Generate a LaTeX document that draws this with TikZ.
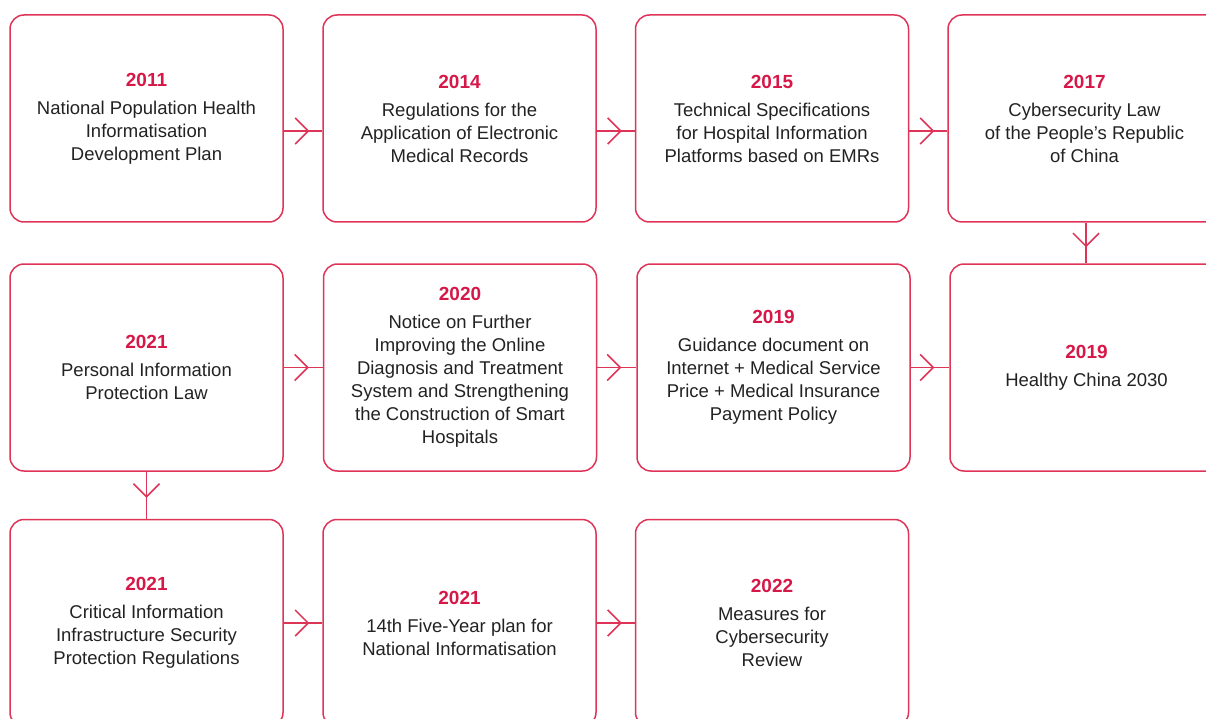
\documentclass[tikz,border=0pt]{standalone}
\usepackage{fontspec}
\setmainfont{Liberation Sans}
\usetikzlibrary{arrows.meta,decorations.markings}
\definecolor{crim}{RGB}{222,52,88}
\definecolor{yearc}{RGB}{214,24,72}
\definecolor{txt}{RGB}{34,34,34}
\tikzset{
  box/.style={draw=crim,line width=1.5pt,rounded corners=14pt,minimum width=273pt,minimum height=207pt,inner sep=0pt,align=center,text=txt,font=\fontsize{18.5}{23}\selectfont},
  conn/.style={draw=crim,line width=1.5pt,postaction={decorate},decoration={markings,mark=at position #1 with {\arrow[crim]{Straight Barb[length=13pt,width=26pt,line width=1.5pt]}}}},
  conn/.default=-13pt
}
\newcommand{\yr}[1]{{\color{yearc}\bfseries\fontsize{19}{23}\selectfont #1}\\[5pt]}
\begin{document}
\begin{tikzpicture}[x=1pt,y=-1pt]
\useasboundingbox (0,0) rectangle (1206,719);
\clip (0,0) rectangle (1206,719);
\node[box] (a1) at (146.5,118.5) {\yr{2011}National Population Health\\Informatisation\\Development Plan};
\node[box] (a2) at (459.5,118.5) {\yr{2014}Regulations for the\\Application of Electronic\\Medical Records};
\node[box] (a3) at (772,118.5) {\yr{2015}Technical Specifications\\for Hospital Information\\Platforms based on EMRs};
\node[box] (a4) at (1084.5,118.5) {\yr{2017}Cybersecurity Law\\of the People’s Republic\\of China};
\node[box] (b1) at (146.5,367.5) {\yr{2021}Personal Information\\Protection Law};
\node[box] (b2) at (460,367.5) {\yr{2020}Notice on Further\\Improving the Online\\Diagnosis and Treatment\\System and Strengthening\\the Construction of Smart\\Hospitals};
\node[box] (b3) at (773.5,367.5) {\yr{2019}Guidance document on\\Internet + Medical Service\\Price + Medical Insurance\\Payment Policy};
\node[box] (b4) at (1086.5,367.5) {\yr{2019}Healthy China 2030};
\node[box] (c1) at (146.5,623) {\yr{2021}Critical Information\\Infrastructure Security\\Protection Regulations};
\node[box] (c2) at (459.5,623) {\yr{2021}14th Five-Year plan for\\National Informatisation};
\node[box] (c3) at (772,623) {\yr{2022}Measures for\\Cybersecurity\\Review};
\draw[conn] (a1.east |- 0,131) -- (a2.west |- 0,131);
\draw[conn] (a2.east |- 0,131) -- (a3.west |- 0,131);
\draw[conn] (a3.east |- 0,131) -- (a4.west |- 0,131);
\draw[conn=-16pt] (a4.south -| 1086,0) -- (b4.north -| 1086,0);
\draw[conn=-14pt] (b1.east) -- (b2.west);
\draw[conn=-15pt] (b2.east) -- (b3.west);
\draw[conn=-15pt] (b3.east) -- (b4.west);
\draw[conn=-21pt] (b1.south) -- (c1.north);
\draw[conn] (c1.east) -- (c2.west);
\draw[conn] (c2.east) -- (c3.west);
\end{tikzpicture}
\end{document}
